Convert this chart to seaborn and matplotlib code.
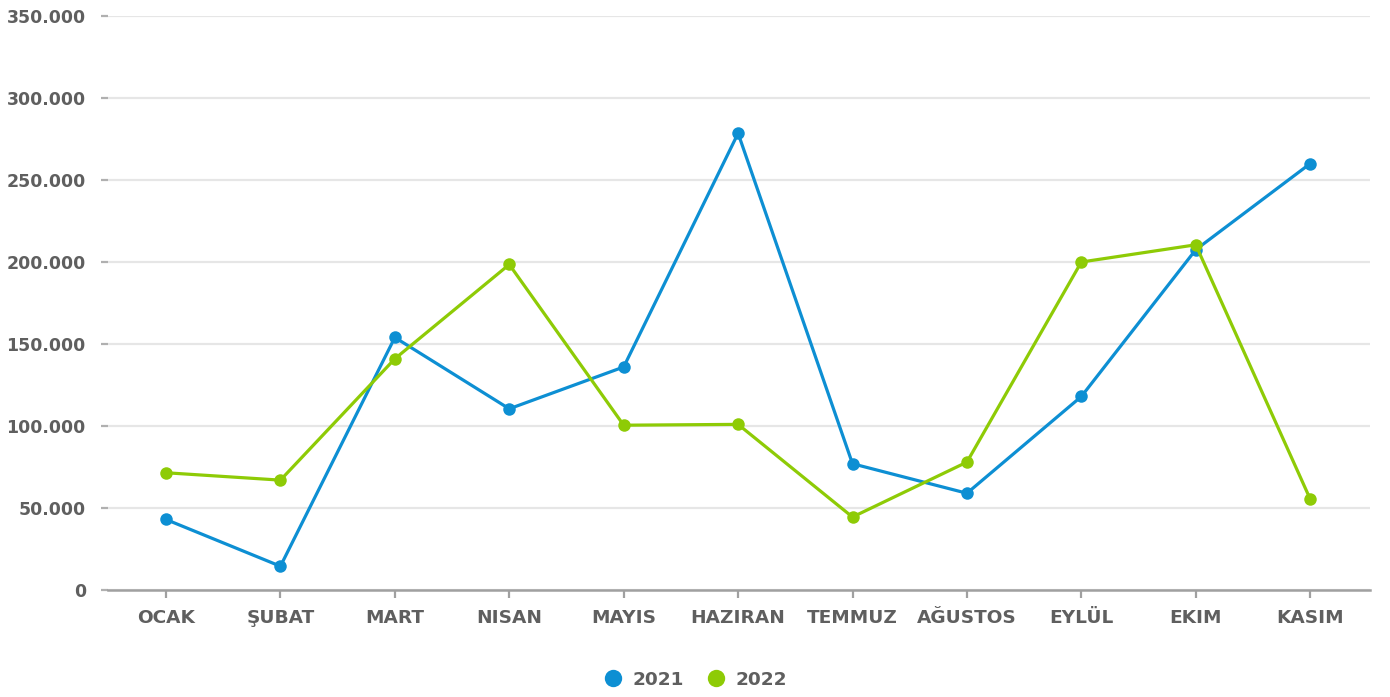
import matplotlib
matplotlib.use("Agg")
import matplotlib.pyplot as plt
from matplotlib.lines import Line2D
from matplotlib.ticker import FuncFormatter, MultipleLocator
import pandas as pd
import seaborn as sns

months = ["OCAK", "ŞUBAT", "MART", "NISAN", "MAYIS", "HAZIRAN",
          "TEMMUZ", "AĞUSTOS", "EYLÜL", "EKIM", "KASIM"]
values_2021 = [43000, 14500, 154000, 110500, 136000, 278500,
               77000, 59000, 118000, 207500, 260000]
values_2022 = [71500, 67000, 141000, 198500, 100500, 101000,
               44500, 78000, 200000, 210500, 55500]
years = ["2021", "2022"]
colors = {"2021": "#0d8fd3", "2022": "#8ecb06"}

df = pd.DataFrame({
    "ay": months * 2,
    "deger": values_2021 + values_2022,
    "yil": [years[0]] * len(months) + [years[1]] * len(months),
})

sns.set_style("white")
plt.rcParams["font.family"] = ["DejaVu Sans"]
text_color = "#5f5f5f"

fig = plt.figure(figsize=(13.9, 6.97), dpi=100)
ax = fig.add_axes([0.0777, 0.1535, 0.908, 0.8235])

sns.lineplot(data=df, x="ay", y="deger", hue="yil", palette=colors,
             marker="o", markersize=9, markeredgewidth=0, linewidth=2.3,
             sort=False, legend=False, ax=ax, zorder=3)

ax.set_ylim(0, 350000)
ax.set_xlim(-0.507, len(months) - 1 + 0.524)
ax.yaxis.set_major_locator(MultipleLocator(50000))
ax.yaxis.set_major_formatter(FuncFormatter(lambda v, p: f"{int(v):,}".replace(",", ".")))
ax.grid(axis="y", color="#e6e6e6", linewidth=1.6, zorder=0)
ax.set_axisbelow(True)

for s in ["top", "right", "left"]:
    ax.spines[s].set_visible(False)
ax.spines["bottom"].set_color("#a0a0a0")
ax.spines["bottom"].set_linewidth(1.8)

ax.tick_params(axis="y", left=True, length=5, width=1.6, color="#b0b0b0", pad=11,
               labelsize=12.5, labelcolor=text_color)
ax.tick_params(axis="x", bottom=True, length=6, width=1.6, color="#a0a0a0", pad=8,
               labelsize=13.3, labelcolor=text_color)
for lab in ax.get_xticklabels() + ax.get_yticklabels():
    lab.set_fontweight("bold")
ax.set_xlabel("")
ax.set_ylabel("")

handles = [Line2D([], [], linestyle="none", marker="o", markersize=12.5,
                  markerfacecolor=colors[y], markeredgewidth=0) for y in years]
fig.legend(handles, years, loc="center", bbox_to_anchor=(0.497, 0.025), ncol=2,
           frameon=False, handletextpad=0.05, columnspacing=0.75,
           prop={"weight": "bold", "size": 13.3}, labelcolor=text_color)

fig.savefig("out.png", dpi=100)
